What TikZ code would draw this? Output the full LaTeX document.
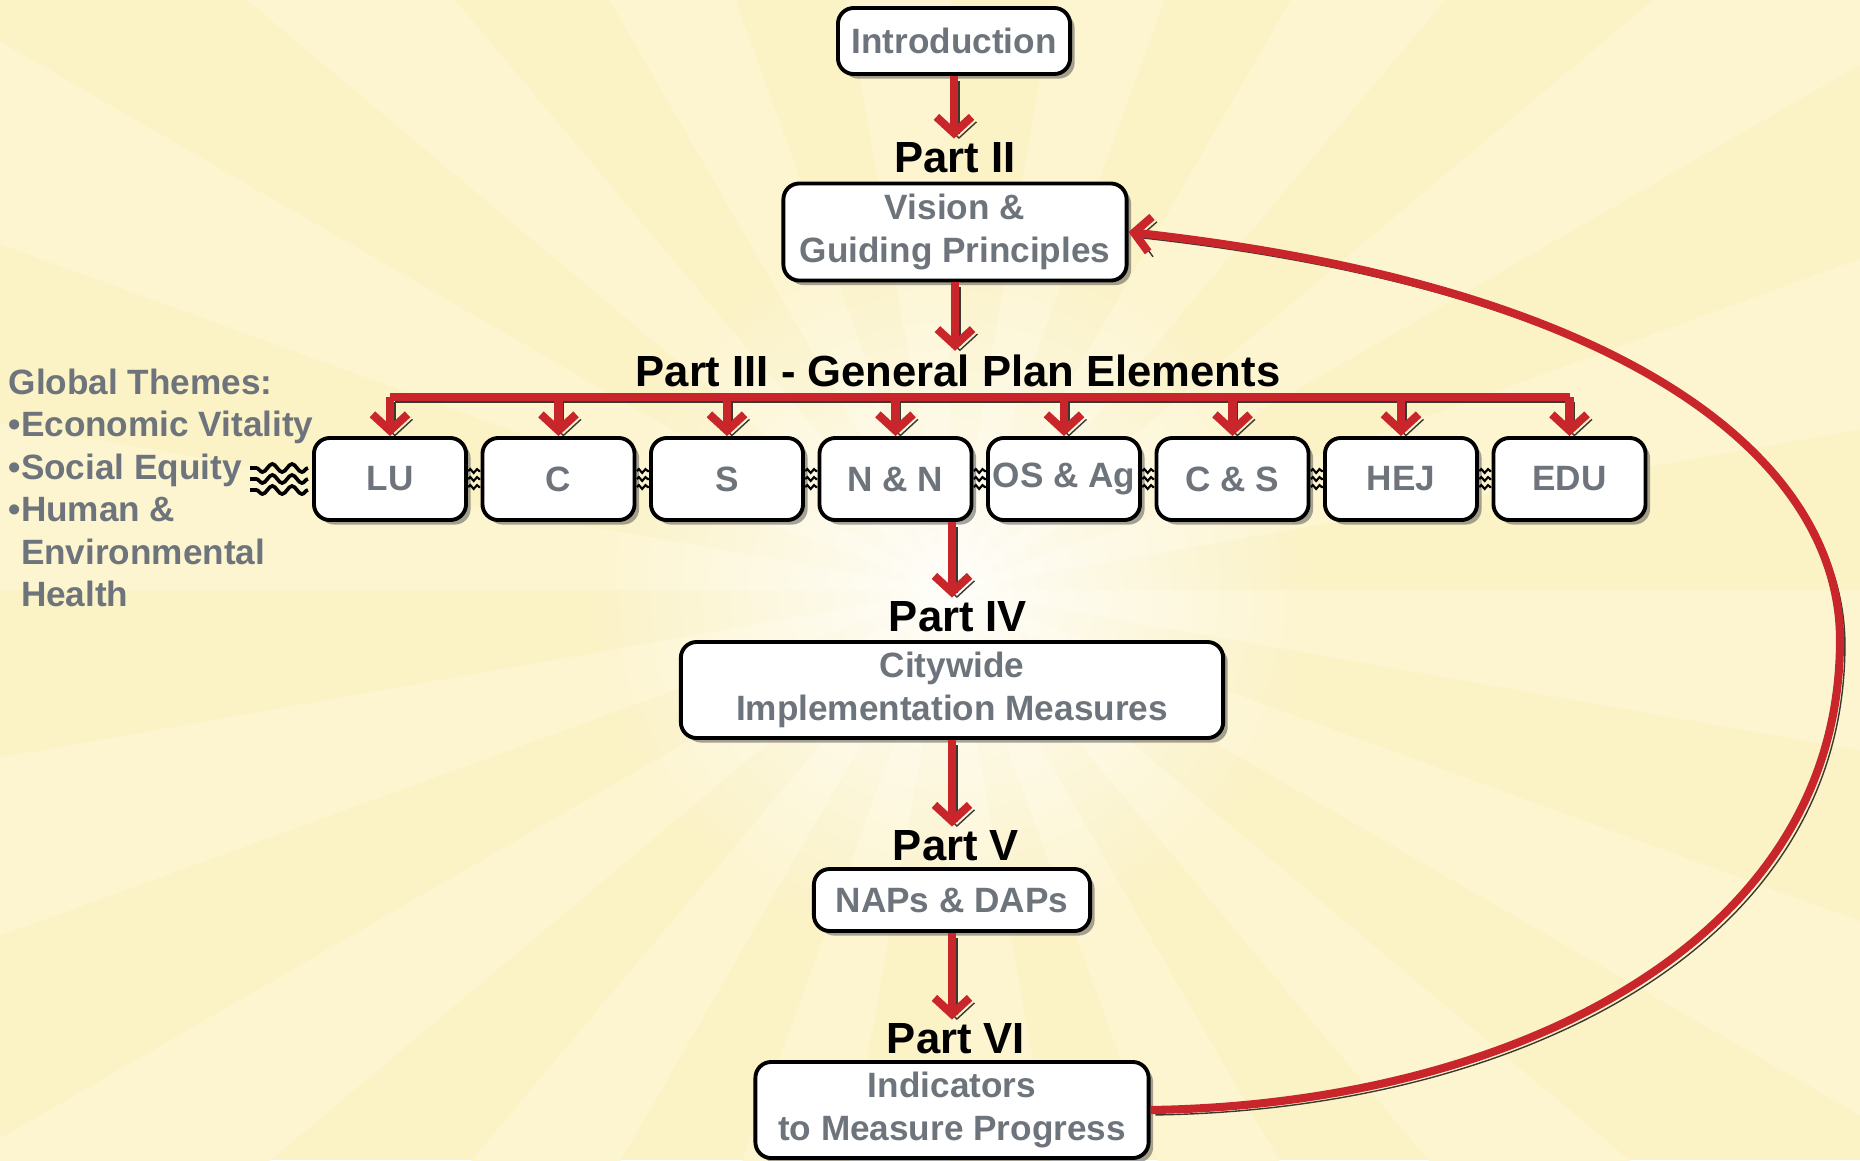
\documentclass[tikz,border=0pt]{standalone}
\usepackage{fontspec}
\setmainfont{Liberation Sans}
\usetikzlibrary{arrows.meta,shadows,decorations.pathmorphing,fadings,calc}

\definecolor{bgyellow}{RGB}{251,242,198}
\definecolor{rayyellow}{RGB}{253,245,208}
\definecolor{planred}{RGB}{201,38,44}
\definecolor{redshade}{RGB}{58,56,48}
\definecolor{boxtext}{RGB}{110,116,123}
\tikzfading[name=glow,inner color=transparent!0,outer color=transparent!100]

\begin{document}
\begin{tikzpicture}[x=0.01cm,y=-0.01cm,
	part/.style={font=\fontsize{12.4}{14}\selectfont\bfseries,text=black,inner sep=1pt},
	plan/.style={draw=black,line width=1.1pt,fill=white,rounded corners=4.5pt,align=center,
		text=boxtext,font=\fontsize{10}{12.2}\selectfont\bfseries,inner sep=0pt,
		drop shadow={shadow xshift=1.3pt,shadow yshift=-1.3pt,fill=black!70,opacity=.5}},
	flow/.style={draw=planred,line width=2.3pt,-{Straight Barb[length=4.6pt,width=10pt]},
		preaction={draw=redshade,transform canvas={shift={(1.4pt,-1.4pt)}}}},
	bar/.style={draw=planred,line width=2.3pt,
		preaction={draw=redshade,transform canvas={shift={(1.4pt,-1.4pt)}}}},
	themes/.style={align=left,text=boxtext,font=\fontsize{10}{12.1}\selectfont\bfseries,inner sep=0pt},
	wave/.style={line width=1.05pt,decorate,decoration={snake,amplitude=1.15pt,segment length=5.6pt}},
	linker/.style={line width=.6pt,decorate,decoration={snake,amplitude=.55pt,segment length=1.9pt}}]

	\useasboundingbox (0,0) rectangle (1860,1160);
	\clip (0,0) rectangle (1860,1160);

	\fill[bgyellow] (0,0) rectangle (1860,1160);
	\foreach \a in {0,20,...,340}
		\fill[rayyellow] (950,590) -- +(\a:2500) -- +(\a+10:2500) -- cycle;
	\fill[white,opacity=.9,path fading=glow] (950,590) circle (360);

	\node[plan,minimum width=2.32cm,minimum height=.66cm] (intro) at (954,41) {Introduction};
	\node[part] (p2) at (955,158) {Part II};
	\node[plan,minimum width=3.43cm,minimum height=.97cm] (vision) at (955,232) {Vision \&\\Guiding Principles};
	\node[part] (p3) at (958,371) {Part III - General Plan Elements};

	\foreach \name/\txt [count=\i from 0] in {lu/LU,c/C,s/S,nn/N \& N,os/OS \& Ag,cs/C \& S,hej/HEJ,edu/EDU}
		\node[plan,minimum width=1.52cm,minimum height=.82cm] (\name) at (390+168.5*\i,479) {\txt};

	\foreach \l/\r in {lu/c,c/s,s/nn,nn/os,os/cs,cs/hej,hej/edu}
		\foreach \dy in {-8,0,8}
			\draw[linker] ($(\l.east)!.5!(\r.west)$) ++(-6,\dy) -- ++(12,0);

	\node[part] (p4) at (958,617) {Part IV};
	\node[plan,minimum width=5.42cm,minimum height=.96cm] (cw) at (952,690) {Citywide\\Implementation Measures};
	\node[part] (p5) at (956,846) {Part V};
	\node[plan,minimum width=2.76cm,minimum height=.62cm] (naps) at (952,900) {NAPs \& DAPs};
	\node[part] (p6) at (956,1039) {Part VI};
	\node[plan,minimum width=3.93cm,minimum height=.96cm] (ind) at (952,1110) {Indicators\\to Measure Progress};

	\node[themes,anchor=north west] (gt) at (8,368) {Global Themes:\\•Economic Vitality\\•Social Equity\\•Human \&\\\hphantom{•}Environmental\\\hphantom{•}Health};

	\foreach \dy in {-11,0,11}
		\draw[wave] (lu.west) ++(-4,\dy) -- ++(-58,0);

	\draw[flow] (intro.south) -- (intro.south |- p2.north);
	\draw[flow] (vision.south) -- (vision.south |- p3.north);

	\coordinate (bus) at (0,397);
	\draw[bar] (lu.north |- bus) -- (edu.north |- bus);
	\foreach \name in {lu,c,s,nn,os,cs,hej,edu}
		\draw[flow] (\name.north |- bus) -- (\name.north);

	\draw[flow] (nn.south -| cw.north) -- (cw.north |- p4.north);
	\draw[flow] (cw.south) -- (cw.south |- p5.north);
	\draw[flow] (naps.south) -- (naps.south |- p6.north);

	\draw[flow] (ind.east) .. controls (1500,1105) and (1840,950) .. (1840,640)
		.. controls (1840,470) and (1650,290) .. (vision.east);

\end{tikzpicture}
\end{document}
